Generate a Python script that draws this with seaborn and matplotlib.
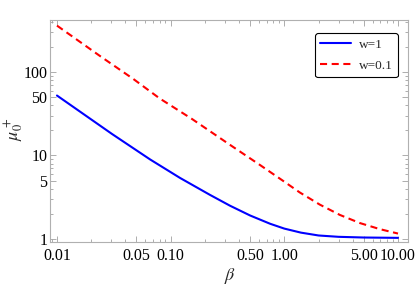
import matplotlib
matplotlib.use("Agg")
import matplotlib.pyplot as plt
import matplotlib.ticker as mticker
import seaborn as sns

# values
beta_w1 = [0.01, 0.0305, 0.066, 0.121, 0.222, 0.333, 0.50, 0.75, 1.0, 1.4, 2.0, 3.0, 5.0, 10.0]
mu_w1 = [52.3, 18.1, 8.96, 5.38, 3.37, 2.50, 1.91, 1.52, 1.33, 1.19, 1.10, 1.06, 1.04, 1.03]

beta_w01 = [0.01, 0.024, 0.047, 0.08, 0.154, 0.333, 0.61, 0.95, 1.37, 2.05, 3.08, 4.62, 6.93, 10.0]
mu_w01 = [360, 155, 82.5, 48.3, 27.4, 13.4, 7.7, 5.09, 3.6, 2.58, 1.94, 1.55, 1.31, 1.16]

x_ticks = [0.01, 0.05, 0.1, 0.5, 1, 5, 10]
x_tick_labels = ["0.01", "0.05", "0.10", "0.50", "1.00", "5.00", "10.00"]
y_ticks = [1, 5, 10, 50, 100]
y_tick_labels = ["1", "5", "10", "50", "100"]

sns.set_style("ticks")
plt.rcParams['font.family'] = ['Liberation Serif', 'DejaVu Serif']
plt.rcParams['mathtext.fontset'] = 'stix'

fig = plt.figure(figsize=(4.2, 2.86), dpi=100)
ax = fig.add_axes([0.119, 0.154, 0.852, 0.776])

sns.lineplot(x=beta_w1, y=mu_w1, ax=ax, color='#0000ff', lw=1.5, label='w=1')
sns.lineplot(x=beta_w01, y=mu_w01, ax=ax, color='#ff0000', lw=1.5,
             linestyle=(0, (3.4, 2.2)), label='w=0.1')

ax.set_xscale('log')
ax.set_yscale('log')
ax.set_xlim(0.00868, 12.2)
ax.set_ylim(0.92, 420)

ax.set_xticks(x_ticks)
ax.set_xticklabels(x_tick_labels)
ax.set_yticks(y_ticks)
ax.set_yticklabels(y_tick_labels)
ax.xaxis.set_minor_locator(mticker.LogLocator(base=10, subs=range(2, 10), numticks=20))
ax.yaxis.set_minor_locator(mticker.LogLocator(base=10, subs=range(2, 10), numticks=20))
ax.xaxis.set_minor_formatter(mticker.NullFormatter())
ax.yaxis.set_minor_formatter(mticker.NullFormatter())

for s in ax.spines.values():
    s.set_color('#b0b0b0')
    s.set_linewidth(0.8)
ax.tick_params(which='both', direction='in', top=True, right=True, color='#a0a0a0', width=0.6,
               labelcolor='black', labelsize=11.5)
ax.tick_params(which='major', length=4)
ax.tick_params(which='minor', length=2)
ax.tick_params(axis='x', pad=4)
ax.tick_params(axis='y', pad=2)

# axis labels, centred on fixed spots like the reference
ax.set_xlabel(r'$\beta$', fontsize=13, va='center')
ax.set_ylabel(r'$\mu_0^+$', fontsize=13, ha='center', va='center', rotation_mode='default')
ax.xaxis.set_label_coords(0.503, -0.155)
ax.yaxis.set_label_coords(-0.1, 0.505)

leg = ax.legend(loc='upper right', bbox_to_anchor=(0.972, 0.941), borderaxespad=0,
                fontsize=9.5, handlelength=2.3, handletextpad=0.6, labelspacing=0.7,
                fancybox=True, framealpha=1, edgecolor='black')
leg.get_frame().set_linewidth(0.8)

fig.savefig('out.png', dpi=100)
